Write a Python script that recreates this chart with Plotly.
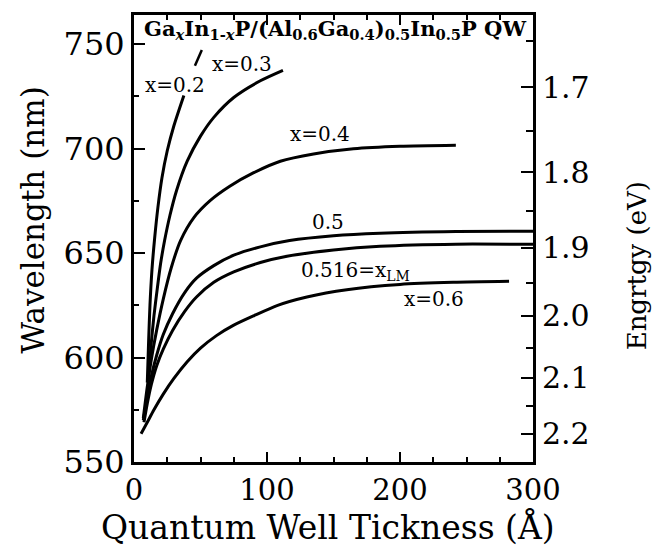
import plotly.graph_objects as go

# ---- data ----
x02_t = [10, 11, 12, 13.5, 15.5, 18, 21, 25, 30, 37.5]
x02_w = [588, 608, 625, 642, 657, 672, 686, 699, 711, 725.5]

x03_t = [11, 13, 15, 17.5, 20, 23, 27, 32, 40, 50, 60, 75, 95, 112]
x03_w = [592, 607, 620, 633, 645, 656, 668, 680, 694, 706, 715, 724.5, 732.5, 737.5]

x04_t = [7, 10, 13, 17, 22, 28, 35, 45, 57, 72, 90, 110, 135, 165, 200, 242]
x04_w = [571, 586, 599, 613, 628, 643, 656, 667, 675, 682, 688.5, 694, 697.5, 700, 701.2, 701.7]

x05_t = [7, 10, 13, 17, 22, 29, 38, 47, 60, 75, 95, 117, 150, 185, 242, 300]
x05_w = [570, 581, 591, 601, 611, 621, 631, 638, 644, 649, 653, 656, 658.3, 659.5, 660.3, 660.5]

x0516_t = [7.5, 10, 13, 17, 22, 29, 38, 47, 60, 75, 95, 115, 150, 185, 242, 300]
x0516_w = [569, 578, 587, 596, 604, 613, 622, 629, 636, 641, 645.5, 648.5, 651.5, 653.3, 654.3, 654.2]

x06_t = [5.3, 10, 15, 22, 30, 40, 50, 62, 75, 90, 108, 130, 160, 200, 240, 282]
x06_w = [563.5, 569, 575, 582.5, 590, 598, 604.5, 610.5, 615.5, 620, 625, 629, 632.5, 635, 636, 636.5]

x_range = [0, 300]
y_range = [550, 764]
x_ticks = [0, 100, 200, 300]
y_ticks = [550, 600, 650, 700, 750]
energy_major = [1.7, 1.8, 1.9, 2.0, 2.1, 2.2]
energy_minor = [1.65, 1.75, 1.85, 1.95, 2.05, 2.15]
HC = 1239.84  # eV*nm

series = [(x02_t, x02_w), (x03_t, x03_w), (x04_t, x04_w),
          (x05_t, x05_w), (x0516_t, x0516_w), (x06_t, x06_w)]

FONT = "DejaVu Serif"

fig = go.Figure()
for t, w in series:
    fig.add_trace(go.Scatter(x=t, y=w, mode="lines",
                             line=dict(color="black", width=3, shape="spline", smoothing=0.7),
                             showlegend=False, hoverinfo="skip"))
# invisible trace for right axis
fig.add_trace(go.Scatter(x=[x_range[0]], y=[y_range[0]], yaxis="y2", mode="markers",
                         marker=dict(opacity=0), showlegend=False, hoverinfo="skip"))

fig.update_layout(
    width=659, height=550,
    margin=dict(l=134, r=126, t=12, b=88),
    plot_bgcolor="white", paper_bgcolor="white",
    font=dict(family=FONT, color="black"),
    xaxis=dict(range=x_range, tickvals=x_ticks, showline=True, linecolor="black", linewidth=3,
               mirror="ticks", ticks="inside", ticklen=10, tickwidth=2, tickcolor="black",
               showgrid=False, zeroline=False,
               minor=dict(dtick=25, ticklen=5, tickwidth=1.5, tickcolor="black", ticks="inside"),
               tickfont=dict(size=29, family=FONT)),
    yaxis=dict(range=y_range, tickvals=y_ticks, showline=True, linecolor="black", linewidth=3,
               mirror=False, ticks="inside", ticklen=11, tickwidth=2, tickcolor="black",
               showgrid=False, zeroline=False,
               minor=dict(dtick=25, ticklen=5, tickwidth=1.5, tickcolor="black", ticks="inside"),
               tickfont=dict(size=32, family=FONT)),
    yaxis2=dict(range=y_range, overlaying="y", side="right", showline=True, linecolor="black",
                linewidth=3, ticks="inside", ticklen=12, tickwidth=2, tickcolor="black",
                tickvals=[HC / e for e in energy_major],
                ticktext=["%.1f" % e for e in energy_major],
                minor=dict(tickvals=[HC / e for e in energy_minor], ticklen=7, tickwidth=1.5,
                           tickcolor="black", ticks="inside"),
                showgrid=False, zeroline=False,
                tickfont=dict(size=30, family=FONT)),
)

# axis titles
fig.add_annotation(xref="paper", yref="paper", x=0.486, y=-0.146,
                   text="Quantum Well Tickness (Å)", showarrow=False,
                   font=dict(size=33, family=FONT, color="black"),
                   xanchor="center", yanchor="middle")
fig.add_annotation(xref="paper", yref="paper", x=-0.253, y=0.54,
                   text="Wavelength (nm)", showarrow=False, textangle=-90,
                   font=dict(size=31, family=FONT, color="black"),
                   xanchor="center", yanchor="middle")
fig.add_annotation(xref="paper", yref="paper", x=1.261, y=0.438,
                   text="Engrtgy (eV)", showarrow=False, textangle=-90,
                   font=dict(size=26, family=FONT, color="black"),
                   xanchor="center", yanchor="middle")

lab = dict(size=20, family=FONT, color="black")
annos = [
    ("x=0.2", 30.8, 730.7),
    ("x=0.3", 81.5, 740.5),
    ("x=0.4", 139.5, 706.9),
    ("0.5", 145.5, 665),
    ("0.516=x<sub>LM</sub>", 166.5, 641.3),
    ("x=0.6", 225.8, 628),
]
for txt, ax_, ay_ in annos:
    fig.add_annotation(x=ax_, y=ay_, text=txt, showarrow=False, font=lab,
                       xanchor="center", yanchor="middle")

fig.add_annotation(xref="paper", yref="paper", x=0.504, y=0.968,
                   text="<b>Ga<sub><i>x</i></sub>In<sub>1-<i>x</i></sub>P/(Al<sub>0.6</sub>Ga<sub>0.4</sub>)<sub>0.5</sub>In<sub>0.5</sub>P QW</b>",
                   showarrow=False, font=dict(size=21, family=FONT, color="black"),
                   xanchor="center", yanchor="middle")

# small pointer stroke next to the x=0.3 label
fig.add_shape(type="line", x0=45.8, y0=739.7, x1=51, y1=747.3,
              line=dict(color="black", width=2.5))

fig.write_html("out.html")
